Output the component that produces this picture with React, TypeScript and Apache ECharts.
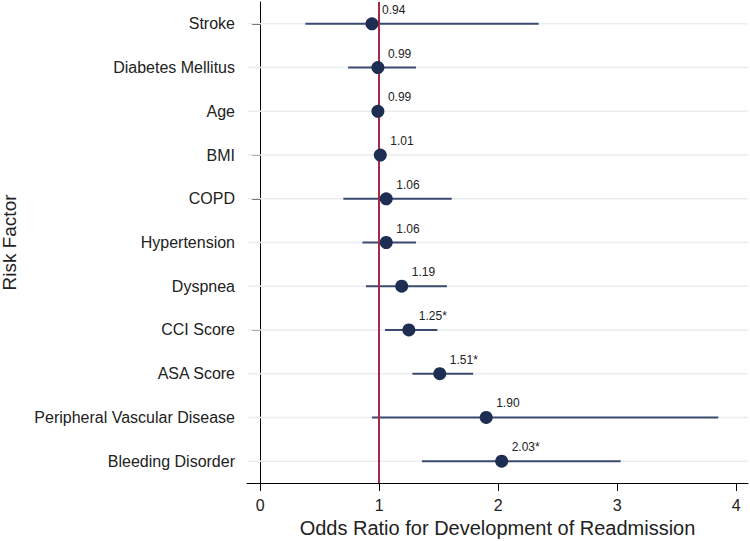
import React, { useEffect, useRef } from "react";
import * as echarts from "echarts";

const categories = [
  "Stroke",
  "Diabetes Mellitus",
  "Age",
  "BMI",
  "COPD",
  "Hypertension",
  "Dyspnea",
  "CCI Score",
  "ASA Score",
  "Peripheral Vascular Disease",
  "Bleeding Disorder",
];
const oddsRatios = [0.94, 0.99, 0.99, 1.01, 1.06, 1.06, 1.19, 1.25, 1.51, 1.9, 2.03];
const ciLower = [0.38, 0.74, 0.98, 1.0, 0.7, 0.86, 0.89, 1.05, 1.28, 0.94, 1.36];
const ciUpper = [2.34, 1.31, 1.0, 1.02, 1.61, 1.31, 1.57, 1.49, 1.79, 3.85, 3.03];
const significant = [false, false, false, false, false, false, false, true, true, false, true];
const xTicks = [0, 1, 2, 3, 4];

const FONT = "'Liberation Sans', Arial, sans-serif";

export default function App() {
  const ref = useRef<HTMLDivElement>(null);
  useEffect(() => {
    if (!ref.current) return;
    const chart = echarts.init(ref.current, null, { renderer: "svg" });
    const ciData = categories.map((c, i) => [ciLower[i], ciUpper[i], i]);
    const pointData = categories.map((c, i) => [oddsRatios[i], i]);
    chart.setOption({
      animation: false,
      backgroundColor: "#ffffff",
      textStyle: { fontFamily: FONT },
      grid: {
        left: 247,
        right: 2,
        top: 2,
        bottom: 58,
        containLabel: false,
        outerBoundsMode: "none",
      },
      xAxis: {
        type: "value",
        min: -0.11,
        max: 4.1,
        splitLine: { show: false },
        axisLine: { show: true, onZero: false, lineStyle: { color: "#000", width: 1 } },
        axisTick: { show: true, length: 8, lineStyle: { color: "#000" }, customValues: xTicks },
        axisLabel: {
          color: "#222",
          fontSize: 16,
          margin: 14,
          fontFamily: FONT,
          customValues: xTicks,
          formatter: (v: number) => String(Math.round(v)),
        },
        name: "Odds Ratio for Development of Readmission",
        nameLocation: "middle",
        nameGap: 32,
        nameTextStyle: { fontSize: 20, color: "#222", fontFamily: FONT },
      },
      yAxis: {
        type: "category",
        data: categories,
        inverse: true,
        splitLine: { show: false },
        axisLine: { show: true, lineStyle: { color: "#000", width: 1 } },
        axisTick: { show: true, length: 8, alignWithLabel: true, lineStyle: { color: "#000" } },
        axisLabel: { color: "#222", fontSize: 16, margin: 12, fontFamily: FONT },
        name: "Risk Factor",
        nameLocation: "middle",
        nameGap: 228,
        nameTextStyle: { fontSize: 19, color: "#222", fontFamily: FONT },
      },
      series: [
        {
          type: "custom",
          z: 1,
          data: ciData,
          encode: { x: [0, 1], y: 2 },
          renderItem: (params: any, api: any) => {
            const idx = api.value(2);
            const lo = api.coord([api.value(0), idx]);
            const hi = api.coord([api.value(1), idx]);
            const cs = params.coordSys;
            return {
              type: "group",
              children: [
                {
                  type: "line",
                  shape: { x1: cs.x + 1, y1: lo[1], x2: cs.x + cs.width, y2: lo[1] },
                  style: { stroke: "#e9edf1", lineWidth: 1.5 },
                },
                {
                  type: "line",
                  shape: { x1: lo[0], y1: lo[1], x2: hi[0], y2: hi[1] },
                  style: { stroke: "#3b4a6e", lineWidth: 2 },
                },
              ],
            };
          },
        },
        {
          type: "line",
          z: 3,
          data: [],
          markLine: {
            silent: true,
            symbol: "none",
            label: { show: false },
            lineStyle: { color: "#a8284a", width: 2, type: "solid" },
            data: [{ xAxis: 1 }],
          },
        },
        {
          type: "scatter",
          z: 5,
          data: pointData,
          symbol: "circle",
          symbolSize: 13,
          itemStyle: { color: "#1e2d52", opacity: 1 },
          label: {
            show: true,
            position: "inside",
            align: "left",
            offset: [10, -14],
            color: "#222",
            fontSize: 12,
            fontFamily: FONT,
            formatter: (p: any) =>
              oddsRatios[p.dataIndex].toFixed(2) + (significant[p.dataIndex] ? "*" : ""),
          },
        },
      ],
    });
    return () => chart.dispose();
  }, []);
  return <div ref={ref} style={{ width: 750, height: 541, position: "absolute", left: 0, top: 0 }} />;
}
